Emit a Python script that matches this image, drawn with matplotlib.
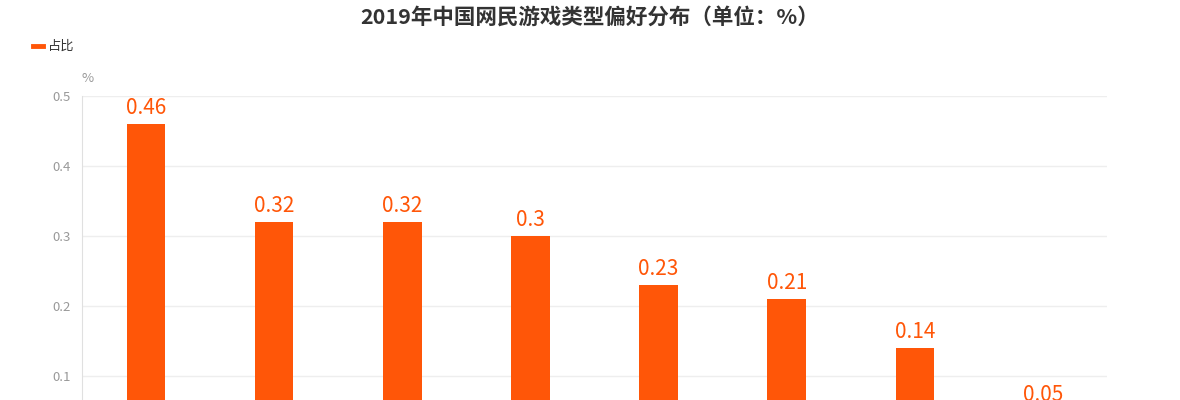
import matplotlib
matplotlib.use("Agg")
import matplotlib.pyplot as plt
from matplotlib.lines import Line2D

plt.rcParams['font.family'] = ['Noto Sans CJK SC', 'DejaVu Sans']

# data (category names sit below the visible area of the reference)
categories = ['休闲益智', '角色扮演', '动作射击', '棋牌竞技', '体育竞速', '策略战棋', '模拟经营', '其他']
shares = [0.46, 0.32, 0.32, 0.3, 0.23, 0.21, 0.14, 0.05]
yticks = [0, 0.1, 0.2, 0.3, 0.4, 0.5]

orange = '#ff5608'

fig = plt.figure(figsize=(11.8, 4), dpi=100)
# plot area: 0.5 at y=96px, 0 at y=446px (below the bottom edge)
ax = fig.add_axes([82/1180, -46/400, 1025/1180, 350/400])

x = range(len(categories))
ax.bar(x, shares, width=0.3, color=orange, zorder=3)
for i, v in zip(x, shares):
    ax.text(i, v + 0.007, f'{v:g}', ha='center', va='bottom',
            color=orange, fontsize=15)

ax.set_xlim(-0.5, len(categories) - 0.5)
ax.set_ylim(0, 0.5)
ax.set_yticks(yticks)
ax.set_yticklabels([f'{t:g}' for t in yticks], color='#999999', fontsize=9.5)
ax.set_xticks(list(x))
ax.set_xticklabels([])  # labels fall outside the picture
ax.tick_params(axis='both', length=0, pad=8)
ax.grid(axis='y', color='#eeeeee', linewidth=1, zorder=0)
for s in ['top', 'right', 'bottom']:
    ax.spines[s].set_visible(False)
ax.spines['left'].set_color('#e0e0e0')

fig.text(82/1180, 1 - 78/400, '%', color='#999999', fontsize=9.5, ha='left', va='center')

fig.text(0.5, 1 - 17/400, '2019年中国网民游戏类型偏好分布（单位：%）',
         ha='center', va='center', fontsize=15.5, fontweight='bold', color='#333333')

# legend
fig.lines.append(Line2D([33/1180, 43/1180], [1 - 46/400, 1 - 46/400],
                        transform=fig.transFigure, color=orange, linewidth=3.5))
fig.text(48/1180, 1 - 46/400, '占比', ha='left', va='center', fontsize=9.5, color='#333333')

fig.savefig('out.png', dpi=100)
